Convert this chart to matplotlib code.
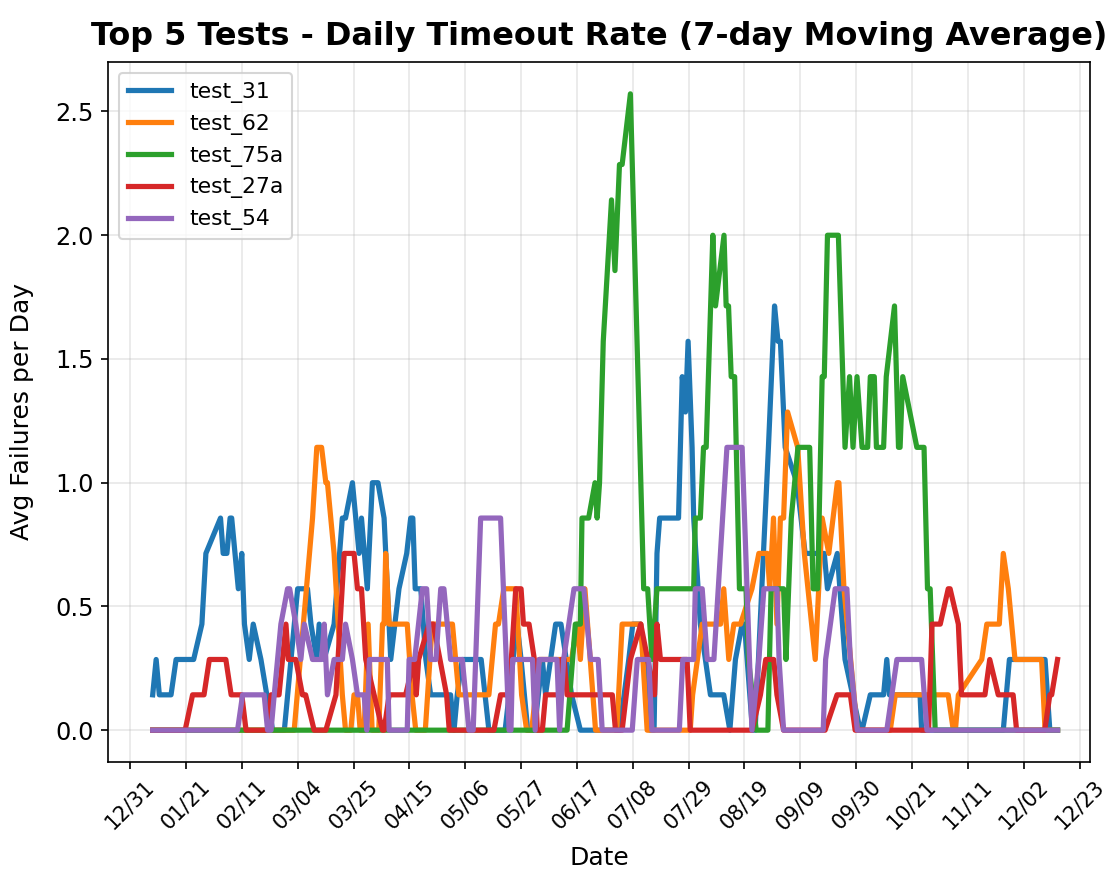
import matplotlib
matplotlib.use("Agg")
import matplotlib.pyplot as plt
import matplotlib.dates as mdates
import pandas as pd

BASE = pd.Timestamp("2022-12-31")

# Day offsets (from 2022-12-31) and 7-day rolling sums (value = sum / 7)
t31_days = [8.5, 9.8, 11, 15.4, 17.3, 23.9, 27, 28.5, 34, 35, 36.4, 37.6, 38.2, 40.7, 42, 43, 44.8,
            46.3, 49.2, 53.6, 58, 63, 66.7, 68, 70.2, 71.1, 72.9, 76.7, 79.8, 81, 83.6, 86.1, 87, 89.2,
            91.1, 93.2, 95.5, 98, 101.1, 104, 105.5, 106.3, 107.2, 109.3, 111.2, 113, 120.5, 121.8,
            123, 124.9, 132, 134.9, 141, 145.5, 147, 149.5, 152, 155, 156.2, 160, 162, 166, 169.3,
            184, 187.5, 189, 192, 195.5, 197, 198.1, 199.1, 206.2, 207.6, 208.8, 209.8, 211.3, 211.9,
            214.4, 218.2, 223.2, 225.5, 227.6, 230.1, 231, 234, 235, 237.5, 240, 242.3, 243.6, 244.5,
            246.3, 250.7, 253.8, 261, 262.2, 265.9, 268.8, 274.5, 275.2, 278.3, 283.3, 284.5, 285.5,
            297, 297.6, 328.3, 330.6, 344, 345.8, 348.7]
t31_sum = [1, 2, 1, 1, 2, 2, 3, 5, 6, 5, 5, 6, 6, 4, 5, 3, 2,
           3, 2, 0, 0, 4, 4, 3, 2, 3, 2, 3, 6, 6, 7, 5, 6, 4,
           7, 7, 6, 2, 4, 5, 6, 6, 4, 4, 2, 1, 1, 0,
           1, 2, 2, 0, 0, 3, 2, 0, 0, 2, 1, 3, 3, 1, 0,
           0, 2, 3, 3, 0, 0, 5, 6, 6, 10, 9, 11, 8, 6,
           3, 1, 1, 0, 2, 3, 3, 0, 0, 4, 8, 12, 11, 11,
           8, 7, 5, 5, 4, 5, 2, 0, 0, 1, 1, 2, 1,
           1, 0, 0, 2, 2, 0, 0]

t62_days = [8.5, 61.7, 68.6, 70.2, 72, 73.6, 74.2, 76.7, 79.8, 81, 83, 84.2, 85.5, 86.5, 88, 89.5,
            91, 93.5, 94.9, 95.5, 96.1, 97.4, 104.2, 106, 107.4, 111, 113.6, 121.2, 123.6, 134.9,
            137.4, 138.5, 140.5, 145, 147.2, 149.1, 151, 153.8, 166, 168.1, 169.3, 171, 173, 175,
            183, 185, 192, 194.4, 210.6, 211.5, 215.1, 222, 223.2, 225.1, 227, 229.5, 233.8, 236.4,
            239.6, 240.5, 241.9, 243.2, 244.5, 245.7, 247.2, 251, 253.5, 257.6, 260.2, 262.7, 265.9,
            266.5, 268.4, 273.4, 285.8, 287.7, 307.6, 309.5, 310.3, 311.4, 320.2, 322.1, 326.8,
            328.3, 330.2, 332.7, 342.7, 344, 348.7]
t62_sum = [0, 0, 6, 8, 8, 7, 7, 5, 1, 0, 0, 1, 1, 0, 0, 3,
           0, 0, 3, 3, 5, 3, 3, 1, 0, 0, 3, 3, 1, 1,
           3, 3, 4, 4, 1, 0, 0, 2, 2, 3, 2, 4, 2, 0,
           0, 3, 3, 0, 0, 1, 3, 3, 4, 2, 3, 3, 4, 5,
           5, 4, 6, 3, 6, 6, 9, 8, 5, 2, 6, 5, 7,
           7, 4, 0, 0, 1, 1, 0, 0, 1, 2, 3, 3,
           5, 4, 2, 2, 0, 0]

t75a_days = [8.5, 164.3, 167.4, 169.3, 169.9, 172.4, 174.8, 175.6, 176.5, 177.9, 181, 182.3, 184, 185,
             188.1, 193.1, 194.6, 196.2, 198.1, 211.9, 212.5, 214.4, 215.6, 216.6, 219.1, 220.1,
             223.3, 224.1, 225, 226, 227.3, 229.1, 231.6, 232.5, 235.4, 239.8, 241, 245.7, 246.6,
             248.6, 251.1, 255.5, 256.8, 258.5, 260.2, 261, 262.2, 266.3, 268.8, 270.5, 271.8, 273.3,
             275.2, 277.3, 278.3, 279.8, 280.6, 283.3, 284.3, 287.4, 288.9, 289.5, 290.5, 295.8,
             298.5, 299.8, 300.8, 302.7, 348.7]
t75a_sum = [0, 0, 3, 3, 6, 6, 7, 6, 7, 11, 15, 13, 16, 16,
            18, 4, 4, 2, 4, 4, 6, 6, 8, 8, 14, 12,
            14, 12, 12, 10, 10, 4, 4, 2, 0, 0, 4, 4, 2,
            6, 8, 8, 4, 4, 10, 10, 14, 14, 8, 10, 8, 10,
            8, 8, 10, 10, 8, 8, 10, 12, 8, 8, 10, 8,
            8, 4, 4, 0, 0]

t27a_days = [8.5, 20.7, 23.5, 27.8, 29.8, 36, 38, 42, 43.6, 51.7, 53, 56, 58.6, 59.5, 62.3, 64.8, 66,
             69.2, 73.6, 77.4, 80.5, 84.2, 85.5, 87, 88.6, 94.9, 95.5, 97.4, 103.6, 106.8, 107.6,
             108.5, 112.4, 114, 119, 120, 136.8, 139.3, 142.5, 145, 147, 147.9, 150, 152, 153.1, 155,
             156.2, 161.2, 162.2, 163.2, 164.3, 181.3, 182.5, 185, 188.1, 192, 197.2, 198.1, 199.4,
             209.4, 210.6, 233.8, 237, 239, 242, 243.2, 245.7, 261.3, 265.8, 270.8, 272.6, 300.2,
             301.5, 304.6, 307.6, 308.3, 311.4, 312.6, 321.4, 323.2, 326.4, 332, 333.3, 343.9, 345.8,
             346.5, 348.7]
t27a_sum = [0, 0, 1, 1, 2, 2, 1, 1, 0, 0, 1, 1, 3, 2, 2, 1, 1,
            0, 0, 1, 5, 5, 4, 4, 2, 0, 0, 1, 1, 2, 1,
            2, 3, 3, 1, 0, 0, 1, 1, 4, 4, 3, 3, 2, 0, 0,
            1, 1, 2, 2, 1, 1, 0, 0, 2, 3, 1, 3, 2,
            2, 0, 0, 1, 2, 2, 1, 0, 0, 1, 1, 0, 0,
            3, 3, 4, 4, 3, 1, 1, 2, 1, 1, 0, 0, 1,
            1, 2]

t54_days = [8.5, 40.4, 42.3, 50.4, 51.7, 53, 54.2, 56.7, 59.2, 60, 62.3, 64.2, 65.5, 68.6, 72, 73,
            74.2, 76.7, 79.8, 81, 83.6, 85.5, 88, 89, 90, 96.7, 97.4, 104.2, 104.9, 107, 109.9, 111.5,
            113, 115, 116.8, 118, 120.5, 124.9, 127.4, 129, 131.8, 139.3, 142.5, 143.2, 143.8, 151.3,
            152.3, 153.8, 160.5, 161.5, 163, 166.9, 170.6, 173.1, 176, 177.5, 188.8, 190.7, 195,
            196.2, 206.5, 207.8, 211.9, 212.5, 215.1, 217, 219.5, 224.4, 230.1, 233.8, 236.4, 238.3,
            243.2, 244, 245.7, 260.6, 261.5, 265.1, 269.5, 270.8, 273.4, 284.5, 288.3, 297.6, 299.6,
            348.7]
t54_sum = [0, 0, 1, 1, 0, 0, 1, 3, 4, 4, 3, 2, 3, 2, 2, 3,
           1, 2, 2, 3, 2, 1, 1, 0, 2, 2, 0, 0, 2, 2, 4, 4,
           2, 2, 4, 4, 2, 2, 0, 0, 6, 6, 0, 0, 2, 2,
           0, 2, 2, 0, 2, 4, 4, 2, 2, 0, 0, 2, 2,
           0, 0, 2, 2, 4, 4, 2, 2, 8, 8, 0, 2, 4,
           4, 2, 0, 0, 2, 4, 4, 2, 0, 0, 2, 2, 0,
           0]

series = [("test_31", t31_days, t31_sum, "#1f77b4"),
          ("test_62", t62_days, t62_sum, "#ff7f0e"),
          ("test_75a", t75a_days, t75a_sum, "#2ca02c"),
          ("test_27a", t27a_days, t27a_sum, "#d62728"),
          ("test_54", t54_days, t54_sum, "#9467bd")]

fig = plt.figure(figsize=(1115 / 150, 877 / 150), dpi=150)
ax = fig.add_axes([108 / 1115, 1 - 762 / 877, (1090 - 108) / 1115, (762 - 62) / 877])

for name, days, sums, color in series:
    dates = BASE + pd.to_timedelta(days, unit="D")
    vals = [s / 7 for s in sums]
    ax.plot(dates, vals, color=color, linewidth=2.5, label=name)

ax.set_title("Top 5 Tests - Daily Timeout Rate (7-day Moving Average)", fontsize=15.3,
             fontweight="bold", pad=8)
ax.set_xlabel("Date", fontsize=12, labelpad=6)
ax.set_ylabel("Avg Failures per Day", fontsize=12, labelpad=10)

ticks = pd.date_range("2022-12-31", periods=18, freq="21D")
ax.set_xticks(ticks)
ax.xaxis.set_major_formatter(mdates.DateFormatter("%m/%d"))
ax.set_xlim(BASE + pd.Timedelta(days=-8.3), BASE + pd.Timedelta(days=360.9))
plt.setp(ax.get_xticklabels(), rotation=45, fontsize=10)
ax.tick_params(axis="y", labelsize=11.5)
ax.grid(True, alpha=0.3)
ax.legend(loc="upper left", fontsize=10.5)

fig.savefig("out.png", dpi=150)
